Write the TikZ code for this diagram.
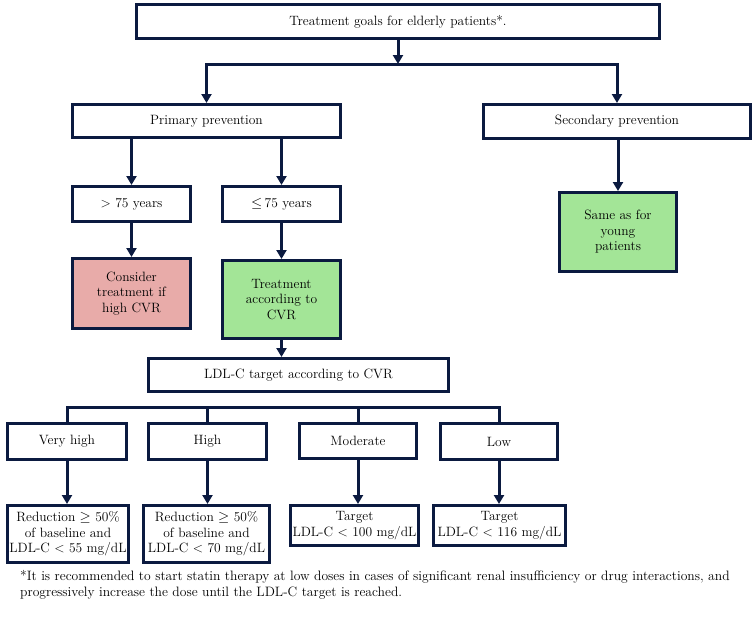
\documentclass[tikz,border=0pt]{standalone}
\usepackage{tikz}
\usepackage{amssymb}
\usepackage{amsmath}
\usetikzlibrary{arrows.meta}

\definecolor{navy}{HTML}{0B1A40}
\definecolor{pinkfill}{HTML}{E8ABA9}
\definecolor{greenfill}{HTML}{A3E597}

\begin{document}
\begin{tikzpicture}[x=1pt, y=-1pt,
  box/.style={draw=navy, line width=3pt, align=center, inner sep=0pt, font=\fontsize{13.5}{15.5}\selectfont},
  link/.style={draw=navy, line width=3pt},
  arrow/.style={link, -{Triangle[length=9pt,width=10pt]}}]

\useasboundingbox (0,0) rectangle (755,621);

\node[box, minimum width=523pt, minimum height=34pt] (goal_box) at (398,21.5) {Treatment goals for elderly patients*.};
\node[box, minimum width=268pt, minimum height=33pt] (primary_box) at (206.5,121) {Primary prevention};
\node[box, minimum width=267pt, minimum height=34pt] (secondary_box) at (617,121.5) {Secondary prevention};
\node[box, minimum width=118pt, minimum height=35pt] (older_box) at (131.5,204) {> 75 years};
\node[box, minimum width=118pt, minimum height=35pt] (younger_box) at (281.5,204) {$\leq$\,75 years};
\node[box, fill=pinkfill, minimum width=118pt, minimum height=70pt] (consider_box) at (131.5,293.5) {Consider\\treatment if\\high CVR};
\node[box, fill=greenfill, minimum width=118pt, minimum height=78pt] (treatment_box) at (281.5,299.5) {Treatment\\according to\\CVR};
\node[box, fill=greenfill, minimum width=117pt, minimum height=79pt] (same_box) at (618,232) {Same as for\\young\\patients};
\node[box, minimum width=300pt, minimum height=33pt] (ldl_box) at (298.5,375) {LDL-C target according to CVR};

\node[box, minimum width=119pt, minimum height=36pt] (cvr_0_box) at (67,441.5) {Very high};
\node[box, minimum width=118pt, minimum height=36pt] (cvr_1_box) at (207.5,441.5) {High};
\node[box, minimum width=117pt, minimum height=35pt] (cvr_2_box) at (358,440.5) {Moderate};
\node[box, minimum width=117pt, minimum height=36pt] (cvr_3_box) at (499,441.5) {Low};

\node[box, minimum width=121pt, minimum height=57pt] (goal_0_box) at (68,534) {Reduction $\geq$ 50\%\\of baseline and\\LDL-C < 55 mg/dL};
\node[box, minimum width=126pt, minimum height=57pt] (goal_1_box) at (206.5,534) {Reduction $\geq$ 50\%\\of baseline and\\LDL-C < 70 mg/dL};
\node[box, minimum width=128pt, minimum height=40pt] (goal_2_box) at (354.5,525.5) {Target\\LDL-C < 100 mg/dL};
\node[box, minimum width=132pt, minimum height=40pt] (goal_3_box) at (499.5,525.5) {Target\\LDL-C < 116 mg/dL};

\node[anchor=north west, align=left, inner sep=0pt, font=\fontsize{13.6}{16.5}\selectfont] (note_text) at (20,570) {*It is recommended to start statin therapy at low doses in cases of significant renal insufficiency or drug interactions, and\\progressively increase the dose until the LDL-C target is reached.};

\coordinate (split_0) at (398,64);
\coordinate (split_1) at (282,407);

\draw[arrow] (goal_box.south) -- (split_0);
\draw[arrow] (split_0) -| (primary_box.north);
\draw[arrow] (split_0) -| (secondary_box.north);
\draw[arrow] (primary_box.south -| older_box) -- (older_box.north);
\draw[arrow] (primary_box.south -| younger_box) -- (younger_box.north);
\draw[arrow] (secondary_box.south -| same_box) -- (same_box.north);
\draw[arrow] (older_box) -- (consider_box);
\draw[arrow] (younger_box) -- (treatment_box);
\draw[arrow] (treatment_box.south) -- (treatment_box.south |- ldl_box.north);

\draw[link] (cvr_0_box.north) |- (split_1) -| (cvr_3_box.north);
\draw[link] (cvr_1_box.north) -- (cvr_1_box.north |- split_1);
\draw[link] (cvr_2_box.north) -- (cvr_2_box.north |- split_1);
\foreach \i in {0,...,3}
  \draw[arrow] (cvr_\i_box.south) -- (cvr_\i_box.south |- goal_\i_box.north);

\end{tikzpicture}
\end{document}
